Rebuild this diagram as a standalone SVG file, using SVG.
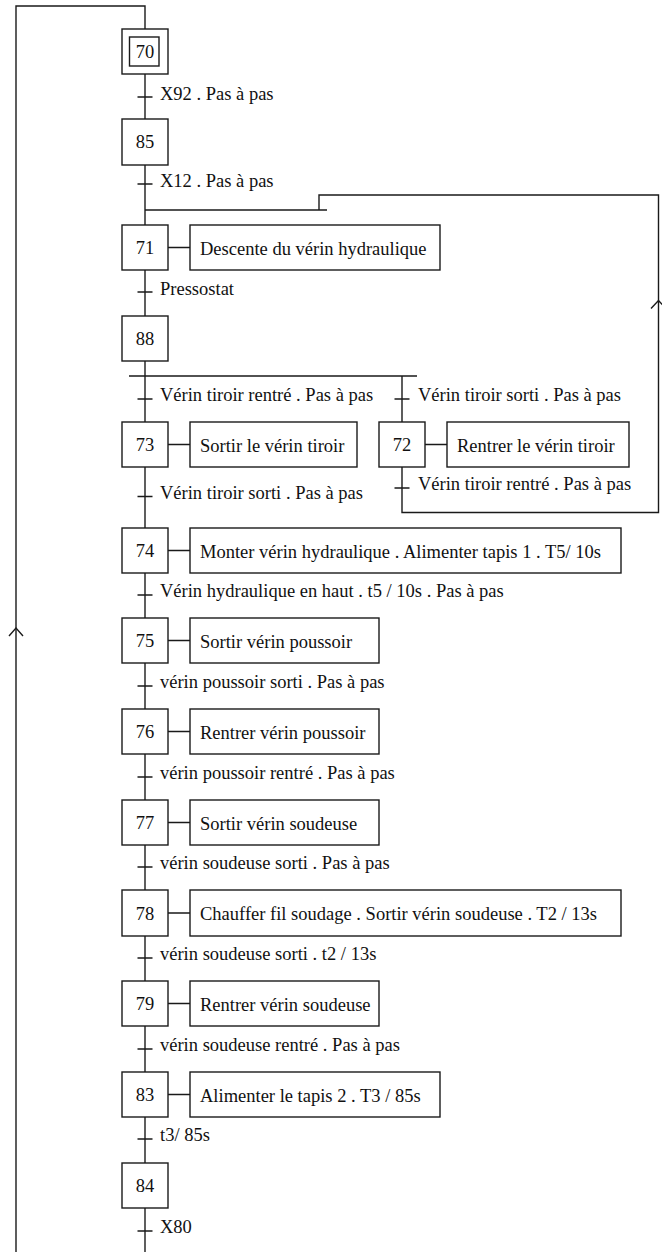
<svg xmlns="http://www.w3.org/2000/svg" width="662" height="1252" viewBox="0 0 662 1252">
<style>
.ln{fill:none;stroke:#1a1a1a;stroke-width:1.4}
.bx{fill:#fff;stroke:#1a1a1a;stroke-width:1.4}
.t{font-family:"Liberation Serif","Times New Roman",serif;font-size:18.5px;fill:#111}
.n{font-family:"Liberation Serif","Times New Roman",serif;font-size:18.5px;fill:#111;text-anchor:middle}
</style>
<rect width="662" height="1252" fill="#fff"/>
<g id="connectors">
  <path class="ln" d="M145,29 V6 H16 V1252"/>
  <path class="ln" d="M145,29 V1252"/>
  <path class="ln" d="M145,210 H327 M319,210 V195 H658.5 V512.5 H402 V376 M129,376 H417"/>
  <path class="ln" d="M9,636 L16,628 L23,636"/>
  <path class="ln" d="M651,308.5 L658.5,300.5 L666,308.5"/>
  <path class="ln" d="M137.5,97 H152.5 M137.5,184 H152.5 M137.5,292 H152.5 M137.5,399 H152.5 M394.5,399 H409.5 M137.5,496.5 H152.5 M394.5,488 H409.5 M137.5,595 H152.5 M137.5,686 H152.5 M137.5,777 H152.5 M137.5,867 H152.5 M137.5,958 H152.5 M137.5,1049 H152.5 M137.5,1139 H152.5 M137.5,1231 H152.5"/>
  <path class="ln" d="M168,247.5 H190 M168,444.5 H190 M425,444.5 H447 M168,550.5 H190 M168,640.5 H190 M168,731.5 H190 M168,822.5 H190 M168,913 H190 M168,1003.5 H190 M168,1094.5 H190"/>
  <g class="t">
    <text x="160" y="99.5">X92 . Pas à pas</text>
    <text x="160" y="187">X12 . Pas à pas</text>
    <text x="160" y="294.5">Pressostat</text>
    <text x="160" y="401">Vérin tiroir rentré . Pas à pas</text>
    <text x="418" y="401">Vérin tiroir sorti . Pas à pas</text>
    <text x="160" y="498.5">Vérin tiroir sorti . Pas à pas</text>
    <text x="418" y="490">Vérin tiroir rentré . Pas à pas</text>
    <text x="160" y="597">Vérin hydraulique en haut . t5 / 10s . Pas à pas</text>
    <text x="160" y="688">vérin poussoir sorti . Pas à pas</text>
    <text x="160" y="779">vérin poussoir rentré . Pas à pas</text>
    <text x="160" y="869">vérin soudeuse sorti . Pas à pas</text>
    <text x="160" y="960">vérin soudeuse sorti . t2 / 13s</text>
    <text x="160" y="1051">vérin soudeuse rentré . Pas à pas</text>
    <text x="160" y="1141">t3/ 85s</text>
    <text x="160" y="1233">X80</text>
  </g>
</g>
<g id="step70"><rect class="bx" x="122" y="29" width="46" height="45"/><rect class="bx" x="129.5" y="37" width="29.5" height="29"/><text class="n" x="145" y="57.5">70</text></g>
<g id="step85"><rect class="bx" x="122" y="119" width="46" height="46"/><text class="n" x="145" y="148">85</text></g>
<g id="step71"><rect class="bx" x="122" y="225" width="46" height="45"/><text class="n" x="145" y="253.5">71</text></g>
<g id="action71"><rect class="bx" x="190" y="225" width="250" height="45"/><text class="t" x="200" y="254.5">Descente du vérin hydraulique</text></g>
<g id="step88"><rect class="bx" x="122" y="316" width="46" height="45"/><text class="n" x="145" y="344.5">88</text></g>
<g id="step73"><rect class="bx" x="122" y="422" width="46" height="45"/><text class="n" x="145" y="451">73</text></g>
<g id="action73"><rect class="bx" x="190" y="422" width="167" height="45"/><text class="t" x="200" y="452">Sortir le vérin tiroir</text></g>
<g id="step72"><rect class="bx" x="379" y="422" width="46" height="45"/><text class="n" x="402" y="451">72</text></g>
<g id="action72"><rect class="bx" x="447" y="422" width="182" height="45"/><text class="t" x="457" y="452">Rentrer le vérin tiroir</text></g>
<g id="step74"><rect class="bx" x="122" y="528" width="46" height="45"/><text class="n" x="145" y="557">74</text></g>
<g id="action74"><rect class="bx" x="190" y="528" width="431" height="45"/><text class="t" x="200" y="558">Monter vérin hydraulique . Alimenter tapis 1 . T5/ 10s</text></g>
<g id="step75"><rect class="bx" x="122" y="618" width="46" height="45"/><text class="n" x="145" y="647">75</text></g>
<g id="action75"><rect class="bx" x="190" y="618" width="189" height="45"/><text class="t" x="200" y="648">Sortir vérin poussoir</text></g>
<g id="step76"><rect class="bx" x="122" y="709" width="46" height="45"/><text class="n" x="145" y="738">76</text></g>
<g id="action76"><rect class="bx" x="190" y="709" width="189" height="45"/><text class="t" x="200" y="739">Rentrer vérin poussoir</text></g>
<g id="step77"><rect class="bx" x="122" y="800" width="46" height="45"/><text class="n" x="145" y="829">77</text></g>
<g id="action77"><rect class="bx" x="190" y="800" width="189" height="45"/><text class="t" x="200" y="830">Sortir vérin soudeuse</text></g>
<g id="step78"><rect class="bx" x="122" y="890" width="46" height="46"/><text class="n" x="145" y="919.5">78</text></g>
<g id="action78"><rect class="bx" x="190" y="890" width="431" height="46"/><text class="t" x="200" y="920">Chauffer fil soudage . Sortir vérin soudeuse . T2 / 13s</text></g>
<g id="step79"><rect class="bx" x="122" y="981" width="46" height="45"/><text class="n" x="145" y="1010">79</text></g>
<g id="action79"><rect class="bx" x="190" y="981" width="189" height="45"/><text class="t" x="200" y="1011">Rentrer vérin soudeuse</text></g>
<g id="step83"><rect class="bx" x="122" y="1072" width="46" height="45"/><text class="n" x="145" y="1101">83</text></g>
<g id="action83"><rect class="bx" x="190" y="1072" width="250" height="45"/><text class="t" x="200" y="1102">Alimenter le tapis 2 . T3 / 85s</text></g>
<g id="step84"><rect class="bx" x="122" y="1163" width="46" height="45"/><text class="n" x="145" y="1192">84</text></g>
</svg>
